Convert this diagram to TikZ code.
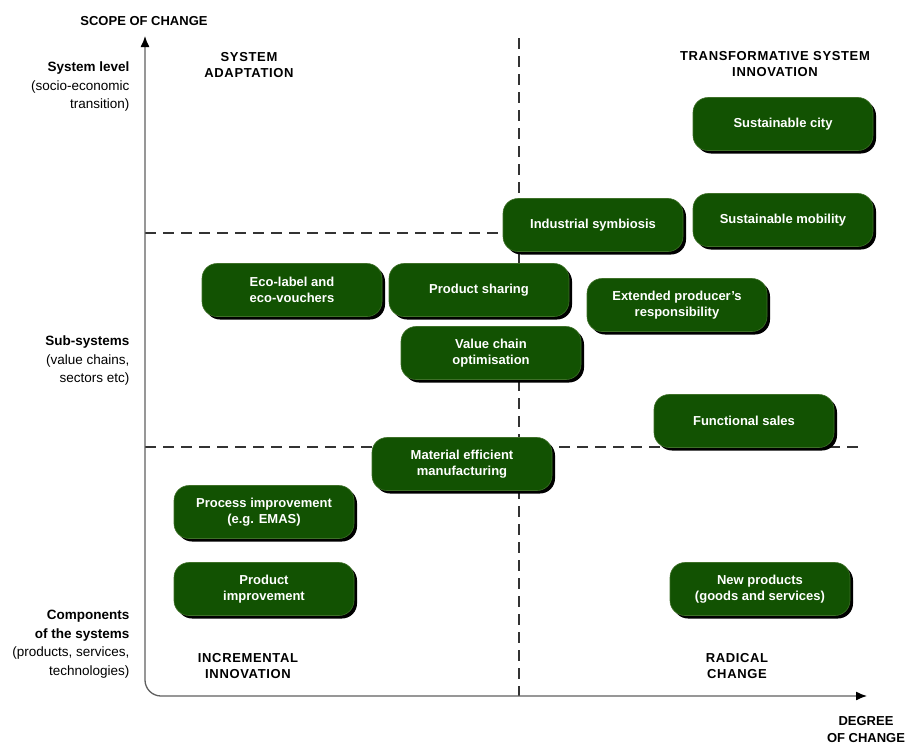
\documentclass[tikz,border=0pt]{standalone}
\usepackage{fontspec}
\setmainfont{Liberation Sans}
\newfontfamily\capsfont[LetterSpace=5]{Liberation Sans}
\usepackage{tikz}
\usetikzlibrary{positioning}
\usetikzlibrary{arrows.meta}
\usetikzlibrary{shadows}
\usepackage{xcolor}
\definecolor{boxgreen}{RGB}{18,82,2}
\definecolor{boxrim}{RGB}{62,112,40}
\definecolor{axisgray}{RGB}{95,95,95}

\begin{document}
\begin{tikzpicture}[x=1pt, y=-1pt,
greenbox/.style={rectangle, rounded corners=15pt, fill=boxgreen, draw=boxrim, line width=0.6pt, minimum width=180pt, minimum height=53pt, text=white, align=center, font=\fontsize{13}{16}\selectfont\bfseries, drop shadow={shadow xshift=3pt, shadow yshift=-3pt, fill=black, opacity=1}},
quadlabel/.style={align=center, font=\fontsize{13}{16}\selectfont\capsfont\bfseries},
sidelabel/.style={anchor=east, align=right, font=\fontsize{13.5}{18.5}\selectfont},
axislabel/.style={align=center, font=\fontsize{13}{17}\selectfont\bfseries},
axisline/.style={draw=axisgray, line width=1.3pt, rounded corners=16pt, {Latex[length=11pt,width=9pt,black]}-{Latex[length=11pt,width=9pt,black]}},
divline/.style={draw=black!80, line width=1.1pt, dash pattern=on 11pt off 7pt}]
\useasboundingbox (0,0) rectangle (906,744);

% axes and dividers
\coordinate (ytop) at (145,36);
\coordinate (origin) at (145,696);
\coordinate (xend) at (867,696);
\coordinate (vtop) at (519,38);
\coordinate (vbot) at (519,696);
\coordinate (hupL) at (145,233);
\coordinate (hupR) at (540,233);
\coordinate (hlowL) at (145,447);
\coordinate (hlowR) at (865,447);

\draw[divline] (vtop) -- (vbot);
\draw[divline] (hupL) -- (hupR);
\draw[divline] (hlowL) -- (hlowR);
\draw[axisline] (ytop) -- (origin) -- (xend);

% axis titles
\node[axislabel] (scope) at (144,21) {SCOPE OF CHANGE};
\node[axislabel] (degree) at (866,730) {DEGREE\\OF CHANGE};

% scope levels
\node[sidelabel] (syslevel) at (133,87) {\textbf{System level}\\(socio-economic\\transition)};
\node[sidelabel] (subsys) at (133,361) {\textbf{Sub-systems}\\(value chains,\\sectors etc)};
\node[sidelabel] (comps) at (133,644) {\textbf{Components}\\\textbf{of the systems}\\(products, services,\\technologies)};

% quadrants
\node[quadlabel] (adapt) at (249,65) {SYSTEM\\ADAPTATION};
\node[quadlabel] (transform) at (775,64) {TRANSFORMATIVE SYSTEM\\INNOVATION};
\node[quadlabel] (increm) at (248,666) {INCREMENTAL\\INNOVATION};
\node[quadlabel] (radical) at (737,666) {RADICAL\\CHANGE};

% examples
\node[greenbox] (city) at (783,124) {Sustainable city};
\node[greenbox] (mobility) at (783,220) {Sustainable mobility};
\node[greenbox] (symbiosis) at (593,225) {Industrial symbiosis};
\node[greenbox] (ecolabel) at (292,290) {Eco-label and\\eco-vouchers};
\node[greenbox] (sharing) at (479,290) {Product sharing};
\node[greenbox] (producer) at (677,305) {Extended producer's\\responsibility};
\node[greenbox] (valuechain) at (491,353) {Value chain\\optimisation};
\node[greenbox] (functional) at (744,421) {Functional sales};
\node[greenbox] (material) at (462,464) {Material efficient\\manufacturing};
\node[greenbox] (process) at (264,512) {Process improvement\\(e.g. EMAS)};
\node[greenbox] (prodimp) at (264,589) {Product\\improvement};
\node[greenbox] (newprod) at (760,589) {New products\\(goods and services)};
\end{tikzpicture}
\end{document}
